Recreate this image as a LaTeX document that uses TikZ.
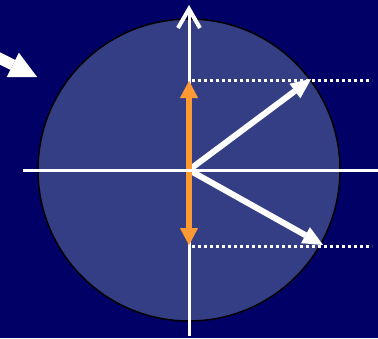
\documentclass[tikz,border=0pt]{standalone}
\usetikzlibrary{arrows.meta}
\definecolor{bg}{RGB}{0,0,102}
\definecolor{diskfill}{RGB}{52,62,133}
\definecolor{orng}{RGB}{255,153,51}
\begin{document}
\begin{tikzpicture}[x=1pt,y=-1pt,
  axis/.style={white, line width=3pt},
  vec/.style={white, line width=6pt, -{Triangle[length=20pt,width=18pt,line width=0.01pt]}},
  ovec/.style={orng, line width=6pt, -{Triangle[length=17pt,width=18pt,line width=0.01pt]}},
  proj/.style={white, line width=3pt, dash pattern=on 3pt off 3pt},
  bigarrow/.style={white, line width=11pt, -{Triangle[length=27pt,width=27pt,line width=0.01pt]}}]
\fill[bg] (0,0) rectangle (378,338);
\useasboundingbox (0,0) rectangle (378,338);
\coordinate (O) at (189,170);
\node[circle, draw=black, line width=1.5pt, fill=diskfill, minimum size=302pt, inner sep=0pt] (disk) at (O) {};
% coordinates
\coordinate (vbot) at (189,336);
\coordinate (vtop) at (189,5);
\coordinate (hl) at (23,170);
\coordinate (hr) at (378,170);
\coordinate (p1a) at (192,80);
\coordinate (p1b) at (372,80);
\coordinate (p2a) at (192,246);
\coordinate (p2b) at (372,246);
\coordinate (v1) at (311,79);
\coordinate (v2) at (323,245);
\coordinate (o1) at (189,81);
\coordinate (o2) at (189,245);
\coordinate (ba) at (-12,52.5);
\coordinate (bb) at (37,77);
% vertical axis
\draw[axis, -{Straight Barb[length=19pt,width=22pt,line width=4pt]}] (vbot) -- (vtop);
% projections
\draw[proj] (p1a) -- (p1b);
\draw[proj] (p2a) -- (p2b);
% vectors
\draw[vec] (O) -- (v1);
\draw[vec] (O) -- (v2);
% orange components
\draw[ovec] (O) -- (o1);
\draw[ovec] (O) -- (o2);
% horizontal axis
\draw[axis] (hl) -- (hr);
% incoming arrow
\draw[bigarrow] (ba) -- (bb);
\end{tikzpicture}
\end{document}
